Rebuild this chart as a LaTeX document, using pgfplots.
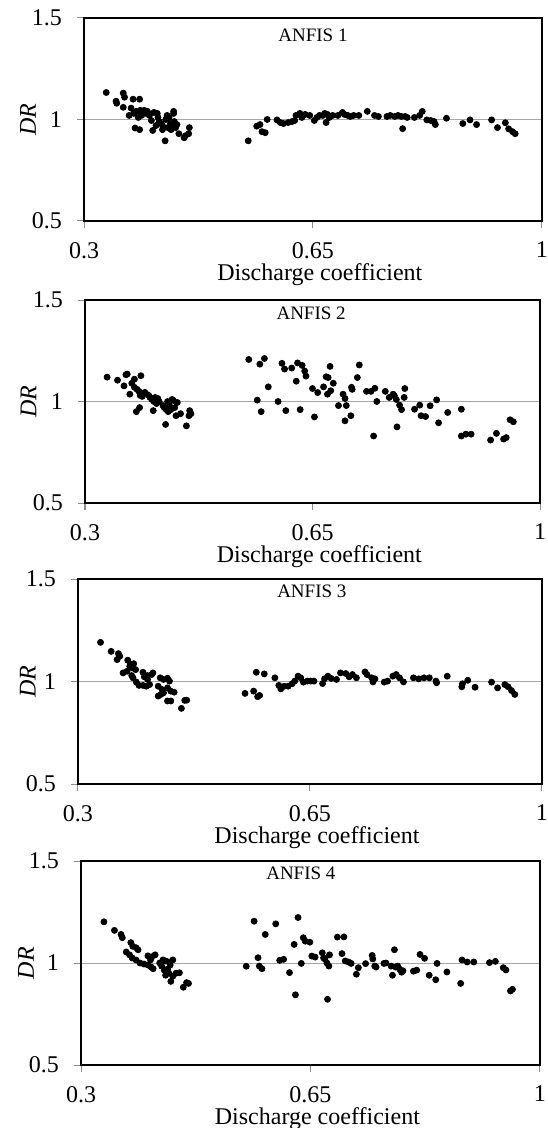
\documentclass[border=0pt]{standalone}
\usepackage{fontspec}
\setmainfont{Liberation Serif}
\usepackage{pgfplots}
\pgfplotsset{compat=1.18}
\pgfplotsset{
 dr/.style={
  scale only axis, anchor=north west,
  xmin=0.3,xmax=1,ymin=0.5,ymax=1.5,
  xtick={0.3,0.65,1}, xticklabels={0.3,0.65,1},
  ytick={0.5,1,1.5}, yticklabels={0.5,1,1.5},
  xtick pos=bottom, ytick pos=left,
  tick align=outside, major tick length=3.5pt,
  tick style={black!45, line width=0.5pt},
  axis line style={line width=1pt},
  ymajorgrids, grid style={black!35, line width=0.5pt},
  /pgf/number format/assume math mode=true,
  xticklabel style={font=\fontsize{12}{12}\selectfont, yshift=-3.5pt},
  yticklabel style={font=\fontsize{12}{12}\selectfont, xshift=-4pt},
  xlabel={Discharge coefficient},
  xlabel style={font=\fontsize{12}{12}\selectfont, at={(axis description cs:0.515,0)}, anchor=center, yshift=-27pt},
  ylabel={\textit{DR}},
  ylabel style={font=\fontsize{12}{12}\selectfont, anchor=center},
 },
 pts/.style={only marks, mark=*, mark size=1.5pt, black, mark options={fill=black, draw=black}},
}
\begin{document}
\begin{tikzpicture}
% ---------------- ANFIS 1
\begin{axis}[dr, at={(42pt,-9pt)}, width=229pt, height=101.5pt,
  ylabel style={at={(axis description cs:-0.122,0.5)}}]
\addplot[pts] table {
0.334 1.133
0.349 1.09
0.350 1.08
0.360 1.13
0.362 1.11
0.360 1.06
0.369 1.02
0.372 1.056
0.375 1.10
0.385 1.10
0.376 1.03
0.380 1.04
0.383 1.01
0.386 1.045
0.388 1.02
0.390 1.03
0.378 0.958
0.385 0.950
0.392 1.045
0.395 1.03
0.397 1.04
0.400 1.02
0.403 0.995
0.405 0.946
0.407 1.035
0.410 0.97
0.412 1.03
0.413 1.01
0.415 0.99
0.418 0.98
0.420 0.97
0.420 0.95
0.424 0.895
0.425 1.00
0.427 1.02
0.428 0.96
0.430 1.01
0.432 0.98
0.433 0.95
0.435 0.97
0.437 1.04
0.437 1.03
0.438 0.99
0.440 0.96
0.442 0.975
0.445 0.93
0.453 0.91
0.455 0.92
0.460 0.93
0.461 0.96
0.551 0.895
0.564 0.967
0.569 0.975
0.572 0.94
0.577 0.935
0.580 1.00
0.595 0.998
0.600 0.985
0.605 0.98
0.612 0.985
0.618 0.99
0.622 0.995
0.624 1.02
0.630 1.03
0.633 1.01
0.638 1.025
0.645 1.02
0.652 0.995
0.656 1.01
0.660 1.02
0.665 1.02
0.668 1.03
0.670 0.985
0.672 1.025
0.675 1.01
0.680 1.02
0.688 1.02
0.695 1.035
0.698 1.025
0.703 1.02
0.707 1.015
0.712 1.02
0.720 1.02
0.733 1.04
0.744 1.02
0.750 1.015
0.763 1.015
0.768 1.02
0.775 1.015
0.780 1.02
0.785 1.015
0.787 0.955
0.791 1.015
0.794 1.01
0.805 1.01
0.813 1.02
0.817 1.04
0.824 0.998
0.830 0.995
0.835 0.99
0.837 0.975
0.854 1.006
0.879 0.98
0.890 0.998
0.900 0.975
0.923 0.998
0.932 0.96
0.944 0.984
0.949 0.954
0.955 0.94
0.959 0.93
};
\node[font=\fontsize{9.5}{9.5}\selectfont] at (axis description cs:0.5,1) [yshift=-8.5pt] {ANFIS 1};
\end{axis}
% ---------------- ANFIS 2
\begin{axis}[dr, at={(42.5pt,-150pt)}, width=227.5pt, height=101.5pt,
  ylabel style={at={(axis description cs:-0.124,0.5)}}]
\addplot[pts] table {
0.334 1.12
0.350 1.105
0.360 1.077
0.363 1.132
0.365 1.135
0.369 1.036
0.372 1.09
0.376 1.11
0.386 1.127
0.376 1.07
0.380 1.06
0.383 1.05
0.385 1.03
0.379 0.95
0.384 0.97
0.388 1.025
0.392 1.045
0.395 1.035
0.398 1.03
0.400 1.02
0.403 1.01
0.405 0.955
0.406 1.00
0.408 1.02
0.410 0.99
0.412 1.015
0.414 1.00
0.420 0.98
0.422 0.97
0.424 0.887
0.425 0.96
0.427 1.00
0.428 0.95
0.430 0.98
0.432 0.96
0.434 1.01
0.436 1.005
0.438 0.97
0.440 0.93
0.442 0.995
0.447 0.94
0.456 0.88
0.460 0.93
0.461 0.955
0.463 0.94
0.552 1.207
0.565 1.007
0.569 1.184
0.571 0.95
0.576 1.212
0.582 1.072
0.597 1.0
0.603 1.188
0.607 1.16
0.609 0.955
0.618 1.165
0.625 1.1
0.627 1.19
0.631 0.96
0.634 1.178
0.638 1.15
0.640 1.125
0.650 1.064
0.653 0.924
0.658 1.044
0.667 1.072
0.671 1.122
0.674 1.118
0.673 1.036
0.677 1.173
0.678 1.053
0.682 1.09
0.690 0.98
0.697 1.036
0.700 1.015
0.702 0.98
0.700 0.905
0.709 0.93
0.710 1.07
0.711 1.06
0.719 1.118
0.722 1.18
0.733 1.05
0.740 1.05
0.746 1.065
0.744 0.83
0.749 1.0
0.762 1.05
0.768 1.02
0.774 1.036
0.776 1.028
0.779 1.01
0.780 0.875
0.784 0.982
0.787 0.96
0.791 1.02
0.792 1.064
0.807 0.962
0.815 0.982
0.817 0.93
0.824 0.926
0.831 0.979
0.841 1.008
0.844 0.895
0.858 0.946
0.879 0.962
0.879 0.83
0.886 0.839
0.894 0.839
0.924 0.81
0.933 0.843
0.944 0.815
0.948 0.822
0.954 0.91
0.959 0.90
};
\node[font=\fontsize{9.5}{9.5}\selectfont] at (axis description cs:0.497,1) [yshift=-6.5pt] {ANFIS 2};
\end{axis}
% ---------------- ANFIS 3
\begin{axis}[dr, at={(39pt,-289.5pt)}, width=232pt, height=102.5pt,
  ylabel style={at={(axis description cs:-0.108,0.5)}}]
\addplot[pts] table {
0.334 1.191
0.350 1.147
0.361 1.136
0.363 1.123
0.359 1.107
0.368 1.042
0.375 1.104
0.379 1.083
0.384 1.087
0.382 1.066
0.387 1.058
0.378 1.074
0.374 1.05
0.381 1.029
0.383 1.018
0.388 0.997
0.392 0.981
0.398 0.981
0.403 0.977
0.408 0.985
0.405 1.01
0.400 1.023
0.411 1.034
0.413 1.042
0.398 1.045
0.405 1.029
0.424 1.018
0.429 1.01
0.435 1.016
0.438 1.002
0.421 0.977
0.427 0.961
0.429 0.945
0.435 0.969
0.440 0.953
0.445 0.948
0.421 0.929
0.425 0.937
0.435 0.905
0.440 0.905
0.456 0.869
0.461 0.908
0.464 0.909
0.552 0.942
0.565 0.953
0.569 1.045
0.571 0.926
0.574 0.932
0.581 1.037
0.597 1.018
0.603 0.981
0.606 0.964
0.611 0.977
0.617 0.977
0.623 0.989
0.627 1.002
0.632 1.026
0.636 1.018
0.640 0.997
0.646 1.002
0.651 1.002
0.656 1.002
0.669 0.99
0.672 1.013
0.677 1.026
0.682 1.015
0.690 1.01
0.696 1.042
0.704 1.039
0.709 1.023
0.714 1.034
0.720 1.018
0.733 1.047
0.736 1.034
0.743 1.018
0.745 0.998
0.748 1.013
0.762 0.997
0.767 1.002
0.775 1.026
0.780 1.034
0.785 1.018
0.791 0.998
0.806 1.018
0.814 1.013
0.822 1.018
0.830 1.018
0.840 1.002
0.841 0.994
0.857 1.026
0.879 0.974
0.880 0.989
0.888 1.006
0.899 0.972
0.924 0.997
0.933 0.969
0.944 0.985
0.949 0.974
0.954 0.956
0.959 0.937
};
\node[font=\fontsize{9.5}{9.5}\selectfont] at (axis description cs:0.504,1) [yshift=-6pt] {ANFIS 3};
\end{axis}
% ---------------- ANFIS 4
\begin{axis}[dr, at={(40.5pt,-430.5pt)}, width=229.5pt, height=102pt,
  ylabel style={at={(axis description cs:-0.12,0.5)}}]
\addplot[pts] table {
0.335 1.202
0.351 1.160
0.361 1.140
0.363 1.124
0.369 1.054
0.376 1.100
0.379 1.082
0.384 1.075
0.387 1.065
0.374 1.04
0.378 1.025
0.384 1.015
0.390 1.00
0.396 0.995
0.402 0.99
0.407 0.98
0.410 0.972
0.406 1.015
0.402 1.035
0.413 1.04
0.408 1.03
0.425 1.015
0.429 1.01
0.434 1.005
0.440 1.015
0.427 0.965
0.429 0.94
0.434 0.95
0.440 0.935
0.445 0.95
0.450 0.952
0.437 0.91
0.456 0.881
0.461 0.904
0.464 0.90
0.420 1.00
0.423 0.985
0.432 0.97
0.436 0.99
0.552 0.984
0.564 1.205
0.570 1.026
0.572 0.985
0.576 0.972
0.581 1.140
0.597 1.192
0.603 1.013
0.609 1.018
0.618 0.953
0.625 1.091
0.627 0.844
0.631 1.223
0.636 0.998
0.639 1.124
0.642 1.107
0.649 1.102
0.652 1.034
0.657 1.029
0.668 1.05
0.670 1.025
0.672 1.02
0.675 1.00
0.678 0.985
0.676 0.822
0.679 1.04
0.691 1.127
0.701 1.128
0.698 1.046
0.703 1.01
0.708 1.005
0.712 0.998
0.720 0.945
0.723 0.977
0.734 0.997
0.744 1.037
0.745 1.02
0.748 0.985
0.750 0.98
0.762 0.998
0.765 1.00
0.773 0.985
0.775 0.94
0.778 1.065
0.780 0.98
0.783 0.985
0.786 0.97
0.789 0.955
0.791 0.962
0.807 0.96
0.812 0.965
0.817 1.042
0.824 1.023
0.831 0.94
0.841 0.918
0.843 0.998
0.858 0.956
0.879 0.90
0.881 1.015
0.889 1.005
0.899 1.005
0.923 1.002
0.932 1.008
0.944 0.977
0.948 0.966
0.955 0.863
0.958 0.871
};
\node[font=\fontsize{9.5}{9.5}\selectfont] at (axis description cs:0.479,1) [yshift=-6pt] {ANFIS 4};
\end{axis}
\pgfresetboundingbox
\useasboundingbox (0pt,0pt) rectangle (273.5pt,-564pt);
\end{tikzpicture}
\end{document}
